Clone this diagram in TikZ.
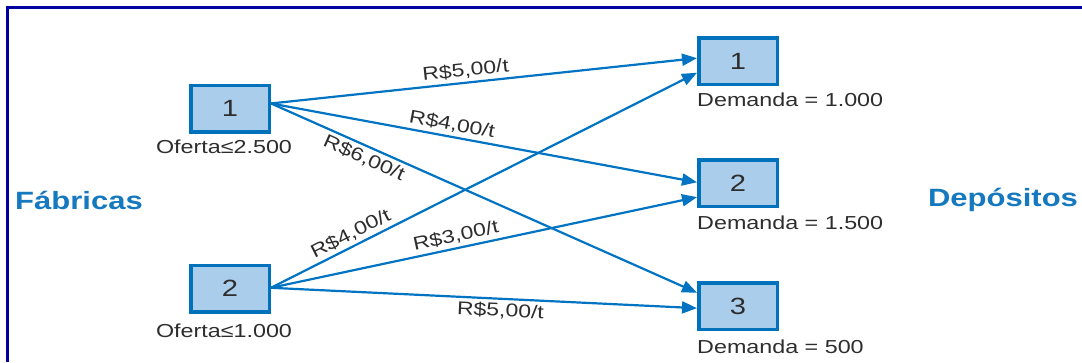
\documentclass[tikz,border=0pt]{standalone}
\usepackage{fontspec}
\setmainfont{Liberation Sans}[FakeStretch=1.24]
\usetikzlibrary{arrows.meta}
\definecolor{boxblue}{RGB}{0,114,188}
\definecolor{boxfill}{RGB}{171,205,236}
\definecolor{arrowblue}{RGB}{0,115,195}
\definecolor{titleblue}{RGB}{22,120,190}
\definecolor{txtgray}{RGB}{45,45,45}
\definecolor{framecol}{RGB}{0,0,160}
\tikzset{
  site/.style={draw=boxblue, fill=boxfill, line width=3.5pt, minimum width=78.5pt, minimum height=46.5pt, inner sep=0pt, font=\fontsize{23.5}{26}\selectfont, text=txtgray},
  info/.style={font=\fontsize{18.8}{21}\selectfont, text=txtgray, inner sep=0pt},
  title/.style={font=\fontsize{25}{28}\selectfont\bfseries, text=titleblue, inner sep=0pt},
  route/.style={draw=arrowblue, line width=2.2pt, -{Triangle[length=15pt,width=12pt]}},
  cost/.style={font=\fontsize{18.5}{21}\selectfont, text=txtgray, sloped, inner sep=3pt}
}
\begin{document}
\begin{tikzpicture}[x=1pt,y=-1pt]
\useasboundingbox (0,0) rectangle (1082,362);
\draw[framecol, line width=3.5pt] (7.5,362) -- (7.5,7.5) -- (1082,7.5);

\node[site] (f1) at (230,108.5) {1};
\node[site] (f2) at (230,288.5) {2};
\node[site] (d1) at (738,61) {1};
\node[site] (d2) at (738,183) {2};
\node[site] (d3) at (738,306) {3};

\node[info] (of1) at (224,147) {Oferta≤2.500};
\node[info] (of2) at (224,331) {Oferta≤1.000};
\node[info, anchor=west] (dm1) at (697,100) {Demanda = 1.000};
\node[info, anchor=west] (dm2) at (697,223) {Demanda = 1.500};
\node[info, anchor=west] (dm3) at (697,347) {Demanda = 500};

\node[title] (fab) at (79,200) {Fábricas};
\node[title] (dep) at (1003,200) {Depósitos};

\draw[route] (f1.7) -- node[cost, pos=0.46, above] {R\$5,00/t} (d1.176);
\draw[route] (f1.7) -- node[cost, pos=0.42, above] {R\$4,00/t} (d2.179);
\draw[route] (f1.7) -- node[cost, pos=0.23, below] {R\$6,00/t} (d3.162);
\draw[route] (f2.1) -- node[cost, pos=0.20, above] {R\$4,00/t} (d1.196);
\draw[route] (f2.1) -- node[cost, pos=0.44, above] {R\$3,00/t} (d2.199);
\draw[route] (f2.1) -- node[cost, pos=0.54, below] {R\$5,00/t} (d3.183);
\end{tikzpicture}
\end{document}
